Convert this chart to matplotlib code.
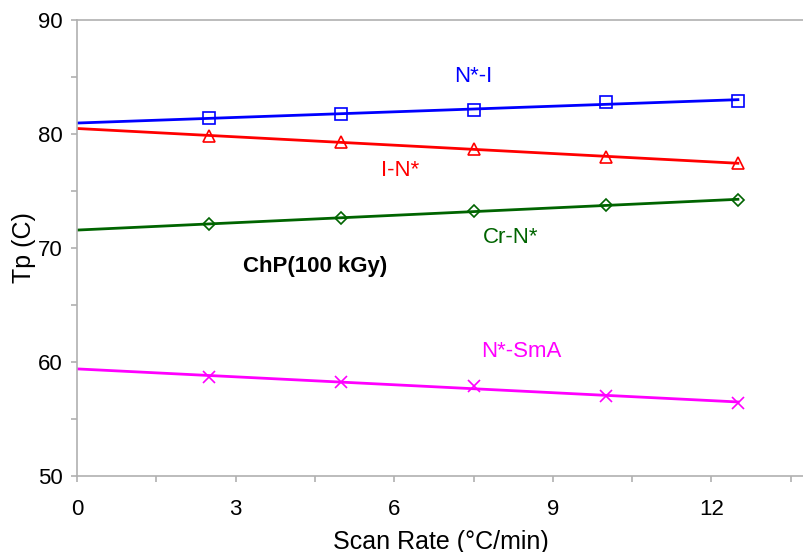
import numpy as np
from matplotlib import pyplot as plt
from matplotlib.ticker import MultipleLocator

plt.rcParams["font.family"] = ["Liberation Sans", "DejaVu Sans"]

scan_rate = [2.5, 5, 7.5, 10, 12.5]
ni_temp = [81.4, 81.7, 82.1, 82.8, 82.9]
in_temp = [79.8, 79.3, 78.7, 78.0, 77.4]
crn_temp = [72.1, 72.6, 73.2, 73.8, 74.2]
nsma_temp = [58.7, 58.2, 57.9, 57.0, 56.4]

series = [
    ("N*-I", ni_temp, "#0000ff", "s", (7.5, 85.0)),
    ("I-N*", in_temp, "#ff0000", "^", (6.1, 76.8)),
    ("Cr-N*", crn_temp, "#006400", "D", (8.2, 70.9)),
    ("N*-SmA", nsma_temp, "#ff00ff", "x", (8.4, 60.9)),
]

fig = plt.figure(figsize=(8.04, 5.52), dpi=100)
ax = fig.add_axes([0.096, 0.138, 0.904, 0.826])

fit_x = np.array([0, 12.5])
for name, temps, color, marker, pos in series:
    k, b = np.polyfit(scan_rate, temps, 1)
    ax.plot(fit_x, k * fit_x + b, color=color, lw=2)
    ms = 6 if marker == "D" else 8
    ax.plot(scan_rate, temps, ls="none", marker=marker, ms=ms,
            mfc="none", mec=color, mew=1.2)
    ax.text(pos[0], pos[1], name, color=color, fontsize=16, ha="center", va="center")

ax.text(4.5, 68.4, "ChP(100 kGy)", fontsize=16, fontweight="bold", ha="center", va="center")

ax.set_xlim(0, 13.75)
ax.set_ylim(50, 90)
ax.xaxis.set_major_locator(MultipleLocator(3))
ax.xaxis.set_minor_locator(MultipleLocator(1.5))
ax.yaxis.set_major_locator(MultipleLocator(10))
ax.yaxis.set_minor_locator(MultipleLocator(5))

for s in ["left", "bottom", "top"]:
    ax.spines[s].set_color("#b0b0b0")
    ax.spines[s].set_linewidth(1.2)
ax.spines["right"].set_visible(False)
ax.tick_params(which="both", color="#b0b0b0", width=1.2, length=4.5, direction="out",
               top=False, right=False)
ax.tick_params(axis="x", which="major", labelsize=16, pad=12)
ax.tick_params(axis="y", which="major", labelsize=16, pad=6)

ax.set_xlabel("Scan Rate (°C/min)", fontsize=18)
ax.set_ylabel("Tp (C)", fontsize=18)
ax.xaxis.set_label_coords(0.5, -0.118)
ax.yaxis.set_label_coords(-0.056, 0.5)

plt.savefig("out.png", dpi=100)
